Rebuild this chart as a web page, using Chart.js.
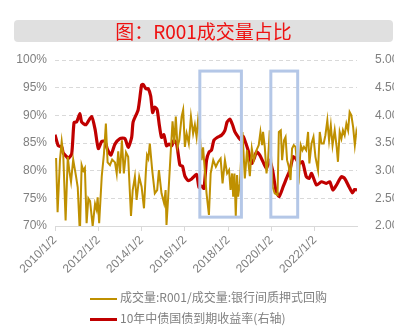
<!DOCTYPE html>
<html>
<head>
<meta charset="utf-8">
<script src="https://cdn.jsdelivr.net/npm/chart.js@4"></script>
<style>
  body { margin: 0; background: #fff; font-family: "Noto Sans CJK SC", "Liberation Sans", sans-serif; }
  #wrap { position: relative; width: 394px; height: 329px; }
  #title {
    position: absolute; left: 14px; top: 20px; width: 379px; height: 22px;
    background: #e0e0e0; border-radius: 4px; color: #ee1111;
    font-size: 19px; line-height: 22px; text-align: center;
  }
  .leg { position: absolute; left: 90px; font-size: 12px; color: #808080; white-space: nowrap; }
  .leg span { display: inline-block; width: 27px; vertical-align: middle; margin-right: 3px; }
</style>
</head>
<body>
<div id="wrap">
  <canvas id="c" width="394" height="329"></canvas>
  <div id="title">图：R001成交量占比</div>
  <div class="leg" style="top:288px"><span style="border-top:2px solid #bf9000"></span>成交量:R001/成交量:银行间质押式回购</div>
  <div class="leg" style="top:309px"><span style="border-top:3px solid #c00000"></span>10年中债国债到期收益率(右轴)</div>
</div>
<script>
// R001 share of interbank repo volume (%), x = decimal year
const ratioYears = [2010.05,2010.12,2010.23,2010.31,2010.38,2010.49,2010.59,2010.66,2010.74,2010.84,2010.97,
  2011.05,2011.15,2011.23,2011.31,2011.38,2011.46,2011.54,2011.62,2011.74,2011.85,2011.92,2011.97,
  2012.04,2012.16,2012.26,2012.35,2012.43,2012.54,2012.64,2012.77,2012.85,2012.92,
  2013.00,2013.09,2013.18,2013.28,2013.38,2013.51,2013.59,2013.69,2013.77,2013.89,
  2014.00,2014.11,2014.20,2014.25,2014.31,2014.38,2014.49,2014.61,2014.72,2014.80,2014.92,
  2015.04,2015.11,2015.15,2015.23,2015.35,2015.43,2015.51,2015.58,2015.66,2015.74,2015.85,2015.92,
  2016.00,2016.08,2016.18,2016.28,2016.38,2016.46,2016.54,2016.61,2016.67,2016.77,2016.84,2016.92,
  2017.00,2017.11,2017.19,2017.31,2017.43,2017.54,2017.65,2017.74,2017.85,2017.95,
  2018.04,2018.11,2018.18,2018.23,2018.29,2018.35,2018.41,2018.46,2018.54,2018.66,2018.77,2018.87,
  2019.00,2019.09,2019.18,2019.31,2019.41,2019.49,2019.57,2019.61,2019.69,2019.77,2019.84,2019.92,
  2020.05,2020.15,2020.28,2020.34,2020.43,2020.49,2020.58,2020.65,2020.72,2020.80,2020.88,2020.95,
  2021.03,2021.11,2021.20,2021.27,2021.35,2021.43,2021.50,2021.60,2021.69,2021.75,2021.85,2021.94,
  2022.03,2022.15,2022.23,2022.31,2022.41,2022.49,2022.58,2022.66,2022.74,2022.82,2022.92,
  2023.01,2023.07,2023.15,2023.23,2023.30,2023.38,2023.46,2023.54,2023.61,2023.69,2023.77,2023.85,2023.92,2023.95];
const ratioValues = [82.3,72.5,82,85.3,83,71,82.5,80,78,82,79,
  77,68.5,81,80,80.5,70.5,75,74.5,70,74,73,75.2,
  70.5,79,83,88.5,81.5,81,82,81.5,79.5,83.5,
  79.5,85.5,79.5,83.3,82.5,71.8,76.5,78.9,74.7,78.9,
  77.1,73.2,80,82.8,82.2,84.9,80.1,75.9,76.5,80.1,75.9,
  74.1,76.5,70.2,75.3,83.7,88.9,84.9,89.8,84.3,85.5,89.8,91.0,
  84.3,86.7,84.9,89.8,86.7,88.3,86.1,89.2,87.5,81.9,84.2,80.1,
  75.9,72.0,79.5,81.9,80.7,81.6,82.2,77.7,81.9,79.5,
  80.1,76.5,79.5,75.3,79.5,71.8,79.2,75.3,77.7,87.0,78.6,83.7,
  79.0,84.0,81.9,83.7,84.6,87.0,84.6,87,84.3,79.5,81.9,87.3,
  77.1,75.9,75.6,87.0,87.3,81.9,85.5,86.1,81.9,80.7,78.3,84.0,
  84.6,84.3,80.7,79.0,84.6,83.7,84.3,83.7,87.0,81.3,84.9,86.1,
  82.5,80.1,87.0,84.9,84.9,86.4,89.1,85.5,88.2,84.6,87.3,
  84.3,81.6,87.0,85.8,87.3,86.4,88.5,87.3,90.6,90.0,87.9,84.6,87.0,86.4];

// 10Y CGB yield (%), right axis
const yieldYears = [2010.00,2010.15,2010.31,2010.38,2010.54,2010.61,2010.77,2010.88,2011.00,2011.15,2011.23,2011.43,2011.69,2011.85,
  2012.00,2012.16,2012.31,2012.41,2012.58,2012.77,2013.00,2013.23,2013.38,2013.54,2013.61,2013.84,
  2014.00,2014.07,2014.20,2014.31,2014.42,2014.51,2014.61,2014.72,2014.81,2014.92,
  2015.03,2015.15,2015.27,2015.39,2015.49,2015.62,2015.77,2015.89,2016.00,2016.15,2016.31,2016.54,2016.65,2016.77,2016.88,
  2017.00,2017.12,2017.23,2017.34,2017.49,2017.69,2017.85,2017.95,2018.08,2018.20,2018.31,2018.46,2018.57,2018.69,2018.81,2018.92,
  2019.08,2019.20,2019.31,2019.46,2019.61,2019.77,2019.89,2020.05,2020.20,2020.35,2020.54,2020.69,2020.85,
  2021.00,2021.12,2021.27,2021.43,2021.61,2021.74,2021.85,2022.08,2022.31,2022.54,2022.69,2022.84,
  2023.00,2023.23,2023.38,2023.58,2023.74,2023.84,2023.95];
const yieldValues = [3.65,3.45,3.43,3.32,3.25,3.22,3.30,3.87,3.88,4.03,3.88,3.83,3.98,3.75,
  3.40,3.53,3.53,3.40,3.28,3.48,3.58,3.58,3.42,3.60,3.88,4.10,
  4.55,4.56,4.48,4.48,4.35,4.05,4.15,4.10,3.85,3.60,
  3.65,3.45,3.48,3.45,3.55,3.48,3.10,3.08,2.90,2.82,2.85,2.93,2.70,2.72,2.68,
  3.19,3.34,3.37,3.55,3.60,3.64,3.73,3.88,3.93,3.83,3.70,3.61,3.56,3.62,3.50,3.37,
  3.13,3.22,3.34,3.28,3.16,3.04,3.19,3.01,2.65,2.53,2.71,2.86,3.01,
  3.25,3.22,3.13,3.16,2.89,2.86,2.95,2.74,2.80,2.77,2.80,2.65,
  2.74,2.89,2.86,2.71,2.60,2.66,2.65];

const xTicks = [2010, 2012, 2014, 2016, 2018, 2020, 2022];
const leftTicks = [70, 75, 80, 85, 90, 95, 100];
const rightTicks = [2.0, 2.5, 3.0, 3.5, 4.0, 4.5, 5.0];

// highlighted periods: [startYear, endYear, topPct, bottomPct]
const highlightSpans = [[2016.69, 2018.61, 98, 71.6], [2019.97, 2021.21, 98, 71.6]];

const boxPlugin = {
  id: 'boxes',
  afterDatasetsDraw(chart) {
    const { ctx, scales: { x, y } } = chart;
    ctx.save();
    ctx.strokeStyle = '#b4c7e7';
    ctx.lineWidth = 3;
    highlightSpans.forEach(s => {
      const x0 = x.getPixelForValue(s[0]), x1 = x.getPixelForValue(s[1]);
      const y0 = y.getPixelForValue(s[2]), y1 = y.getPixelForValue(s[3]);
      ctx.strokeRect(x0, y0, x1 - x0, y1 - y0);
    });
    ctx.restore();
  }
};

const tickFont = { family: '"Liberation Sans", sans-serif', size: 12 };

new Chart(document.getElementById('c'), {
  type: 'line',
  data: {
    datasets: [
      {
        data: ratioYears.map((t, i) => ({ x: t, y: ratioValues[i] })),
        borderColor: '#bf9000', borderWidth: 2, pointRadius: 0, yAxisID: 'y', tension: 0
      },
      {
        data: yieldYears.map((t, i) => ({ x: t, y: yieldValues[i] })),
        borderColor: '#c00000', borderWidth: 3.2, pointRadius: 0, yAxisID: 'y2', tension: 0.2
      }
    ]
  },
  options: {
    responsive: false,
    animation: false,
    layout: { padding: { top: 60, left: 0, right: 0, bottom: 0 } },
    plugins: { legend: { display: false }, tooltip: { enabled: false } },
    scales: {
      x: {
        type: 'linear', min: 2010, max: 2023.95,
        afterBuildTicks: s => { s.ticks = xTicks.map(v => ({ value: v })); },
        afterFit: s => { s.height = 103; },
        ticks: { minRotation: 45, maxRotation: 45, color: '#7f7f7f', font: tickFont, padding: 2,
                 callback: v => v + '/1/2' },
        grid: { drawOnChartArea: false, drawTicks: true, tickLength: 5, color: '#d9d9d9' },
        border: { display: true, color: '#d9d9d9', width: 1 }
      },
      y: {
        position: 'left', min: 70, max: 100,
        afterBuildTicks: s => { s.ticks = leftTicks.map(v => ({ value: v })); },
        afterFit: s => { s.width = 55; },
        ticks: { color: '#7f7f7f', font: tickFont, padding: 8, callback: v => v + '%' },
        grid: { color: c => c.tick.value === 70 ? 'rgba(0,0,0,0)' : '#d9d9d9', drawTicks: false },
        border: { display: false, dash: [4, 3] }
      },
      y2: {
        position: 'right', min: 2, max: 5,
        afterBuildTicks: s => { s.ticks = rightTicks.map(v => ({ value: v })); },
        afterFit: s => { s.width = 37; },
        ticks: { color: '#7f7f7f', font: tickFont, padding: 10, callback: v => v.toFixed(2) },
        grid: { display: false },
        border: { display: false }
      }
    }
  },
  plugins: [boxPlugin]
});
</script>
</body>
</html>
